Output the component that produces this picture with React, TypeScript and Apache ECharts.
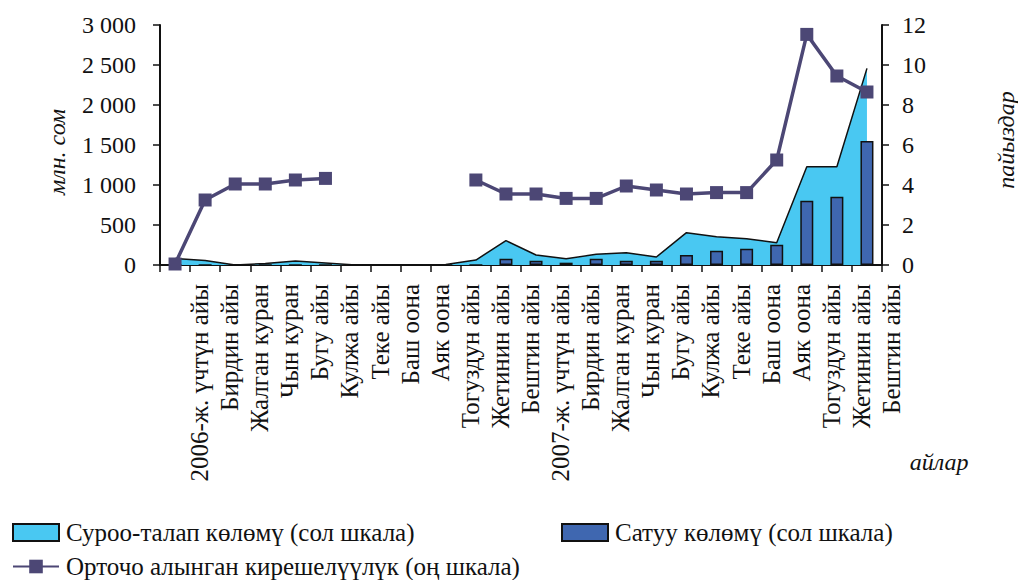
import React, { useEffect, useRef } from "react";
import * as echarts from "echarts";

const categories = [
  "2006-ж. үчтүн айы", "Бирдин айы", "Жалган куран", "Чын куран", "Бугу айы",
  "Кулжа айы", "Теке айы", "Баш оона", "Аяк оона", "Тогуздун айы",
  "Жетинин айы", "Бештин айы", "2007-ж. үчтүн айы", "Бирдин айы", "Жалган куран",
  "Чын куран", "Бугу айы", "Кулжа айы", "Теке айы", "Баш оона",
  "Аяк оона", "Тогуздун айы", "Жетинин айы", "Бештин айы",
];

const demandVolume = [
  80, 55, 0, 20, 50, 25, 0, 0, 0, 5, 62, 304, 125, 79, 133, 154, 100, 404, 354, 329, 279, 1229, 1229, 2458,
];

const salesVolume = [
  0, 0, 0, 0, 0, 0, 0, 0, 0, 0, 0, 79, 54, 29, 79, 54, 54, 125, 179, 204, 254, 804, 854, 1550,
];

const avgYield = [
  0.05, 3.25, 4.05, 4.05, 4.25, 4.33, null, null, null, null,
  4.25, 3.55, 3.55, 3.33, 3.33, 3.95, 3.75, 3.55, 3.62, 3.62, 5.25, 11.53, 9.45, 8.65,
];

const leftTicks = [0, 500, 1000, 1500, 2000, 2500, 3000];
const rightTicks = [0, 2, 4, 6, 8, 10, 12];

const seriesNames = [
  "Суроо-талап көлөмү (сол шкала)",
  "Сатуу көлөмү (сол шкала)",
  "Орточо алынган кирешелүүлүк (оң шкала)",
];

const FONT = "'Liberation Serif', 'DejaVu Serif', serif";

export default function App() {
  const ref = useRef<HTMLDivElement>(null);
  useEffect(() => {
    if (!ref.current) return;
    const chart = echarts.init(ref.current, null, { renderer: "svg" });
    const fmt = (v: number) => String(v).replace(/\B(?=(\d{3})+(?!\d))/g, " ");
    const legendBase = {
      orient: "horizontal",
      itemWidth: 46,
      itemHeight: 17,
      padding: 0,
      textStyle: { fontFamily: FONT, fontSize: 25, color: "#111", padding: [0, 0, 0, 2] },
      selectedMode: false,
    };
    chart.setOption({
      animation: false,
      backgroundColor: "#fff",
      grid: { left: 160, right: 136, top: 25, bottom: 315 },
      legend: [
        {
          ...legendBase,
          left: 12,
          top: 520,
          data: [
            {
              name: seriesNames[0],
              icon: "rect",
              itemStyle: { color: "#49C8F2", borderColor: "#111", borderWidth: 2 },
            },
          ],
        },
        {
          ...legendBase,
          left: 561,
          top: 520,
          data: [
            {
              name: seriesNames[1],
              icon: "rect",
              itemStyle: { color: "#3F67B0", borderColor: "#111", borderWidth: 2 },
            },
          ],
        },
        {
          ...legendBase,
          left: 12,
          top: 554,
          data: [{ name: seriesNames[2] }],
        },
      ],
      xAxis: {
        type: "category",
        data: categories,
        boundaryGap: true,
        axisLine: { lineStyle: { color: "#111", width: 2 } },
        axisTick: { show: true, length: 7, alignWithLabel: false, lineStyle: { color: "#111", width: 1.5 } },
        axisLabel: {
          rotate: 90,
          interval: 0,
          margin: 19,
          verticalAlign: "top",
          padding: [12, 0, 0, 0],
          fontFamily: FONT,
          fontSize: 25,
          color: "#111",
        },
      },
      yAxis: [
        {
          type: "value",
          min: leftTicks[0],
          max: leftTicks[leftTicks.length - 1],
          interval: 500,
          axisLine: { show: true, lineStyle: { color: "#111", width: 2 } },
          axisTick: { show: true, length: 7, lineStyle: { color: "#111", width: 1.5 } },
          splitLine: { show: false },
          axisLabel: { margin: 24, fontFamily: FONT, fontSize: 24, color: "#111", formatter: fmt },
        },
        {
          type: "value",
          min: rightTicks[0],
          max: rightTicks[rightTicks.length - 1],
          interval: 2,
          position: "right",
          axisLine: { show: true, lineStyle: { color: "#111", width: 2 } },
          axisTick: { show: true, length: 7, lineStyle: { color: "#111", width: 1.5 } },
          splitLine: { show: false },
          axisLabel: { margin: 20, fontFamily: FONT, fontSize: 24, color: "#111" },
        },
      ],
      graphic: [
        {
          type: "text",
          x: 57,
          y: 152,
          rotation: Math.PI / 2,
          style: {
            text: "млн. сом",
            fontFamily: FONT,
            fontStyle: "italic",
            fontSize: 24,
            fill: "#111",
            align: "center",
            verticalAlign: "middle",
          },
        },
        {
          type: "text",
          x: 1006,
          y: 140,
          rotation: Math.PI / 2,
          style: {
            text: "пайыздар",
            fontFamily: FONT,
            fontStyle: "italic",
            fontSize: 24,
            fill: "#111",
            align: "center",
            verticalAlign: "middle",
          },
        },
        {
          type: "text",
          x: 939,
          y: 462,
          style: {
            text: "айлар",
            fontFamily: FONT,
            fontStyle: "italic",
            fontSize: 24,
            fill: "#111",
            align: "center",
            verticalAlign: "middle",
          },
        },
      ],
      series: [
        {
          name: seriesNames[0],
          type: "line",
          yAxisIndex: 0,
          data: demandVolume,
          symbol: "none",
          lineStyle: { color: "#111", width: 1.5 },
          itemStyle: { color: "#49C8F2" },
          areaStyle: { color: "#49C8F2", opacity: 1 },
          z: 1,
        },
        {
          name: seriesNames[1],
          type: "bar",
          yAxisIndex: 0,
          data: salesVolume,
          barWidth: 13,
          itemStyle: { color: "#3F67B0", borderColor: "#111", borderWidth: 1.5 },
          z: 2,
        },
        {
          name: seriesNames[2],
          type: "line",
          yAxisIndex: 1,
          data: avgYield,
          symbol: "rect",
          symbolSize: 13,
          connectNulls: false,
          lineStyle: { color: "#4C4775", width: 3.5 },
          itemStyle: { color: "#4C4775" },
          z: 3,
        },
      ],
    });
    return () => chart.dispose();
  }, []);
  return (
    <div
      ref={ref}
      style={{ position: "fixed", left: 0, top: 0, width: 1018, height: 580, background: "#fff" }}
    />
  );
}
